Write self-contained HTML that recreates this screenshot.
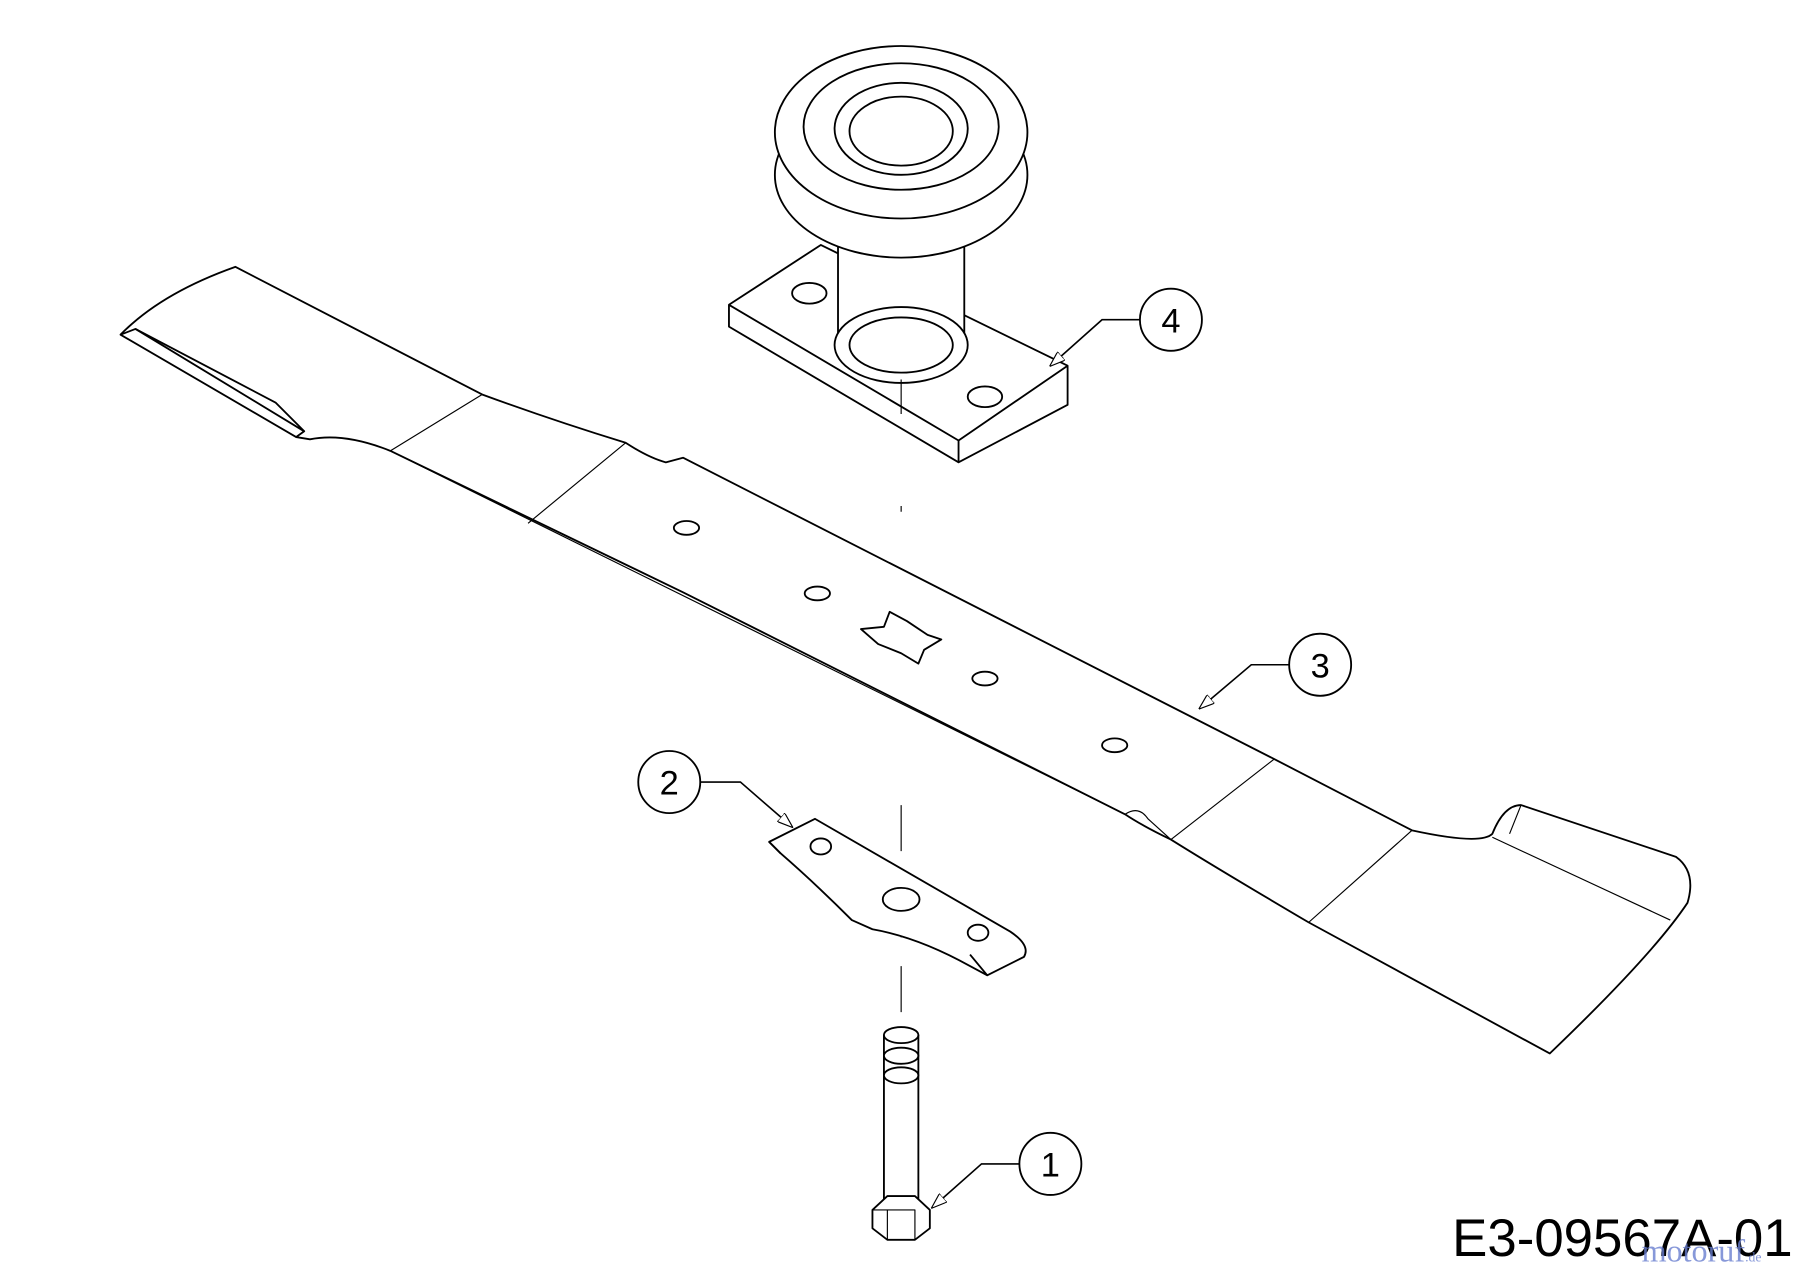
<!DOCTYPE html>
<html><head><meta charset="utf-8"><style>
html,body{margin:0;padding:0;background:#fff;}
svg{display:block;}
</style></head><body>
<svg width="1800" height="1272" viewBox="0 0 1568 1106" preserveAspectRatio="none" xmlns="http://www.w3.org/2000/svg">
<defs><marker id="ar" markerWidth="14" markerHeight="10" refX="13" refY="5" orient="auto" markerUnits="userSpaceOnUse"><path d="M0,0 L14,5 L0,10 Z" fill="#fff" stroke="#000" stroke-width="1"/></marker></defs>
<g fill="#fff" stroke="#000" stroke-width="1.6" stroke-linejoin="round">
<!-- blade -->
<path d="M105,291 Q140,255 205,232 L420,343 Q480,365 545,385 Q565,398 580,402 L595,398 L1110,660 L1230,722 Q1290,735 1300,725 Q1310,700 1325,700 L1460,745 Q1478,758 1470,785 Q1440,830 1350,916 L1140,802 Q1060,755 1020,730 Q995,718 980,708 L595,515 L340,392 Q300,376 270,382 L258,380 Z"/>
<path d="M105,291 L118,286 L265,375 L258,380" fill="none"/>
<path d="M118,286 L240,350 L265,375" fill="none"/>
<path d="M420,343 L340,392 M545,385 L460,455 M1110,660 L1020,730 M1230,722 L1140,802 M1325,700 L1315,725 M1300,728 L1455,800" fill="none" stroke-width="1"/>
<path d="M340,392 L980,708" fill="none" stroke-width="1"/>
<path d="M980,708 Q992,700 1000,712 L1020,730" fill="none" stroke-width="1"/>
<ellipse cx="598" cy="459" rx="11" ry="6"/><ellipse cx="712" cy="516" rx="11" ry="6"/>
<ellipse cx="858" cy="590" rx="11" ry="6"/><ellipse cx="971" cy="648" rx="11" ry="6"/>
<path d="M750,547 L770,545 L775,532 L790,540 L808,552 L820,556 L805,565 L800,577 L785,568 L765,560 Z"/>
<!-- spindle -->
<path d="M635,265 L715,213 L930,318 L930,352 L835,402 L635,284 Z"/>
<path d="M635,265 L835,383 L930,318 M835,383 L835,402" fill="none"/>
<ellipse cx="705" cy="255" rx="15" ry="9"/><ellipse cx="858" cy="345" rx="15" ry="9"/>
<rect x="730" y="150" width="110" height="150" stroke="none"/>
<line x1="730" y1="150" x2="730" y2="300"/><line x1="840" y1="150" x2="840" y2="300"/>
<ellipse cx="785" cy="300" rx="58" ry="33"/><ellipse cx="785" cy="300" rx="45" ry="24"/>
<ellipse cx="785" cy="152" rx="110" ry="72"/>
<ellipse cx="785" cy="115" rx="110" ry="75"/>
<ellipse cx="785" cy="110" rx="85" ry="55"/>
<ellipse cx="785" cy="112" rx="58" ry="40"/><ellipse cx="785" cy="114" rx="45" ry="30"/>
<!-- centerline -->
<path d="M785,330 L785,360 M785,440 L785,445 M785,700 L785,740 M785,800 L785,815 M785,840 L785,880" fill="none" stroke-width="1"/>
<!-- adapter -->
<path d="M670,732 L710,712 L880,810 Q898,822 892,832 L860,848 L845,840 Q800,815 760,808 L742,800 Q710,768 680,742 Z"/>
<path d="M670,732 L680,742 M845,830 L860,848" fill="none"/>
<ellipse cx="715" cy="736" rx="9" ry="7"/><ellipse cx="785" cy="782" rx="16" ry="10"/><ellipse cx="852" cy="811" rx="9" ry="7"/>
<!-- bolt -->
<rect x="770" y="900" width="30" height="150"/>
<ellipse cx="785" cy="900" rx="15" ry="7"/><ellipse cx="785" cy="918" rx="15" ry="7"/><ellipse cx="785" cy="935" rx="15" ry="7"/>
<path d="M760,1052 L773,1040 L797,1040 L810,1052 L810,1068 L797,1078 L773,1078 L760,1068 Z"/>
<path d="M773,1052 L797,1052 L797,1078 M773,1052 L773,1078 M760,1052 L773,1052" fill="none" stroke-width="1"/>
</g>
<g fill="none" stroke="#000" stroke-width="1.4">
<path d="M993,278 L960,278 L915,318" marker-end="url(#ar)"/>
<path d="M1123,578 L1090,578 L1045,616" marker-end="url(#ar)"/>
<path d="M610,680 L645,680 L690,719" marker-end="url(#ar)"/>
<path d="M888,1012 L855,1012 L812,1050" marker-end="url(#ar)"/>
</g>
<g fill="#fff" stroke="#000" stroke-width="1.6">
<circle cx="1020" cy="278" r="27"/><circle cx="1150" cy="578" r="27"/>
<circle cx="583" cy="680" r="27"/><circle cx="915" cy="1012" r="27"/>
</g>
<g font-family="Liberation Sans, sans-serif" font-size="30" text-anchor="middle">
<text x="1020" y="289">4</text><text x="1150" y="589">3</text>
<text x="583" y="691">2</text><text x="915" y="1023">1</text>
</g>
<text x="1265" y="1092" font-family="Liberation Sans, sans-serif" font-size="46">E3-09567A-01</text>
<text x="1430" y="1097" font-family="Liberation Serif, serif" font-size="28" fill="#6a7fd0" opacity="0.8">motoruf<tspan font-size="12">.de</tspan></text>
</svg>
</body></html>
